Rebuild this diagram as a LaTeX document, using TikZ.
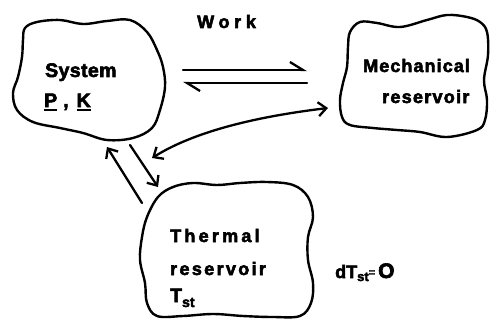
\documentclass[tikz,border=0pt]{standalone}
\usepackage{fontspec}
\setmainfont{Liberation Sans}[BoldFeatures={FakeBold=3}]
\usetikzlibrary{arrows.meta}
% thick underline for vector symbols
\newcommand\thickul[1]{\setbox0\hbox{#1}\rlap{\raisebox{-4pt}{\rule{\wd0}{2.4pt}}}\box0}
\begin{document}
\begin{tikzpicture}[x=1pt,y=-1pt,
  blob/.style={line width=2.4pt, line join=round},
  lbl/.style={anchor=base west, inner sep=0pt, font=\fontsize{18}{20}\selectfont\bfseries},
  conn/.style={line width=2.3pt, line cap=round, line join=round},
  barb/.style={-{Straight Barb[length=8pt,width=14pt]}},
  dbarb/.style={{Straight Barb[length=8pt,width=14pt]}-{Straight Barb[length=8pt,width=14pt]}},
  harp/.style={-{Straight Barb[harpoon,length=13pt,width=16pt]}},
  rharp/.style={{Straight Barb[harpoon,length=13pt,width=16pt]}-},
]
\path[use as bounding box] (0,0) rectangle (490,321);

% outlines of the three bodies
\draw[blob] plot[smooth cycle, tension=0.6] coordinates {
  (25,28) (37,22) (60,20) (83,24) (107,21) (130,20) (147,32) (157,50)
  (163,67) (165,87) (160,110) (152,128) (133,138) (107,140) (83,133)
  (60,128) (33,122) (17,110) (13,93) (18,77) (22,57) (23,40)};
\draw[blob] plot[smooth cycle, tension=0.6] coordinates {
  (350,32) (360,22) (377,23) (400,27) (427,20) (447,15) (467,17) (480,22)
  (487,32) (488,55) (484,80) (487,100) (485,120) (477,130) (447,137)
  (420,132) (397,130) (373,128) (350,125) (342,117) (340,100) (343,83)
  (347,67) (348,47)};
\draw[blob] plot[smooth cycle, tension=0.6] coordinates {
  (158,197) (173,187) (193,183) (217,185) (240,183) (267,182) (293,185)
  (308,197) (313,217) (308,237) (308,260) (313,283) (311,303) (300,316)
  (273,317) (243,316) (213,314) (183,316) (157,316) (147,303) (145,283)
  (140,260) (142,237) (147,217)};

% labels
\node[lbl, font=\fontsize{19.5}{21}\selectfont\bfseries] (sys) at (45,77) {\addfontfeatures{LetterSpace=2}System};
\node[lbl, font=\fontsize{19.5}{21}\selectfont\bfseries] (pk) at (44,107)
  {\thickul{P}\hspace{6pt},\hspace{8pt}\thickul{K}};
\node[lbl] (mech) at (363,72) {\addfontfeatures{LetterSpace=6}Mechanical};
\node[lbl] (mres) at (382,103) {\addfontfeatures{LetterSpace=7}reservoir};
\node[lbl] (work) at (197,28) {\addfontfeatures{LetterSpace=26}Work};
\node[lbl] (therm) at (170,242) {\addfontfeatures{LetterSpace=18}Thermal};
\node[lbl] (tres) at (170,275) {\addfontfeatures{LetterSpace=13}reservoir};
\node[lbl, font=\fontsize{19.5}{21}\selectfont\bfseries] (tst) at (170,302)
  {T\raisebox{-5pt}{\fontsize{14}{14}\selectfont st}};
\node[lbl, font=\fontsize{18}{20}\selectfont\bfseries] (dtst) at (335,278)
  {dT\raisebox{-3pt}{\fontsize{13}{13}\selectfont st}\raisebox{2pt}{\fontsize{11}{11}\selectfont =}\,{\fontsize{21}{21}\selectfont O}};

% connector end points
\coordinate (w1a) at (183,70);  \coordinate (w1b) at (307,70);
\coordinate (w2a) at (183,83);  \coordinate (w2b) at (307,83);
\coordinate (cA) at (152,158);  \coordinate (cB) at (328,108);
\coordinate (u1) at (142,203);  \coordinate (u2) at (107,147);
\coordinate (d1) at (130,145);  \coordinate (d2) at (158,187);

% work exchange with the mechanical reservoir
\draw[conn, harp] (w1a) -- (w1b);
\draw[conn, rharp] (w2a) -- (w2b);
% coupling between thermal and mechanical sides
\draw[conn, dbarb] (cA) .. controls (200,128) and (270,115) .. (cB);
% heat exchange with the thermal reservoir
\draw[conn, barb] (u1) -- (u2);
\draw[conn, barb] (d1) -- (d2);
\end{tikzpicture}
\end{document}
